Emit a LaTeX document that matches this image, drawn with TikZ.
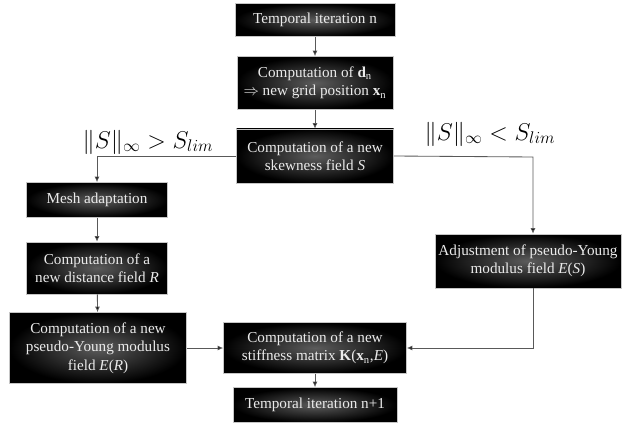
\documentclass[tikz,border=0pt]{standalone}
\usepackage{fontspec}
\setmainfont{Liberation Serif}
\usetikzlibrary{arrows.meta}
\tikzset{
  caja/.style={draw=gray!45, line width=0.4pt, shading=radial,
    inner color=black!64, outer color=black, text=white!92!black,
    align=center, inner sep=1pt, font=\fontsize{10.8}{13}\selectfont},
  flecha/.style={draw=black!65, line width=0.6pt, -{Latex[length=4pt,width=3.5pt,fill=black]}},
  cond/.style={font=\fontsize{17.5}{20}\selectfont, inner sep=0pt}
}
\begin{document}
\begin{tikzpicture}[x=0.025cm, y=-0.025cm]
        \useasboundingbox (0,0) rectangle (624,426);

        % Cajas
        \node[caja, minimum width=160*0.025cm, minimum height=33*0.025cm] (iter) at (315,20) {Temporal iteration n};
        \node[caja, minimum width=156*0.025cm, minimum height=53*0.025cm] (despl) at (315,83)
          {Computation of \textbf{d}\textsubscript{n}\\$\Rightarrow$ new grid position \textbf{x}\textsubscript{n}};
        \node[caja, minimum width=157*0.025cm, minimum height=54*0.025cm] (skew) at (315,156)
          {Computation of a new\\skewness field \textit{S}};
        \node[caja, minimum width=141*0.025cm, minimum height=35*0.025cm] (mesh) at (97,200) {Mesh adaptation};
        \node[caja, minimum width=141*0.025cm, minimum height=52*0.025cm] (dist) at (97,268)
          {Computation of a\\new distance field \textit{R}};
        \node[caja, minimum width=177*0.025cm, minimum height=71*0.025cm] (young) at (98,348)
          {Computation of a new\\pseudo-Young modulus\\field \textit{E}(\textit{R})};
        \node[caja, minimum width=186*0.025cm, minimum height=54*0.025cm] (ajuste) at (528,261)
          {Adjustment of pseudo-Young\\modulus field \textit{E}(\textit{S})};
        \node[caja, minimum width=183*0.025cm, minimum height=51*0.025cm] (rigidez) at (315,348)
          {Computation of a new\\stiffness matrix \textbf{K}(\textbf{x}\textsubscript{n},\textit{E})};
        \node[caja, minimum width=164*0.025cm, minimum height=35*0.025cm] (iter1) at (315,405) {Temporal iteration n+1};

        % Condiciones
        \node[cond] (mayor) at (148,142) {$\|S\|_\infty > S_{lim}$};
        \node[cond] (menor) at (490,134) {$\|S\|_\infty < S_{lim}$};
        \coordinate (giro) at (533,157);

        % Flechas
        \draw[flecha] (iter) -- (despl);
        \draw[flecha] (despl) -- (skew);
        \draw[flecha] (skew.west) -| (mesh.north);
        \draw[flecha] (mesh) -- (dist);
        \draw[flecha] (dist) -- (young);
        \draw[flecha] (young) -- (rigidez);
        \draw[flecha] (skew.east) -- (giro) -- (ajuste.north -| giro);
        \draw[flecha] (ajuste.south -| giro) |- (rigidez.east);
        \draw[flecha] (rigidez) -- (iter1);
    \end{tikzpicture}
\end{document}
